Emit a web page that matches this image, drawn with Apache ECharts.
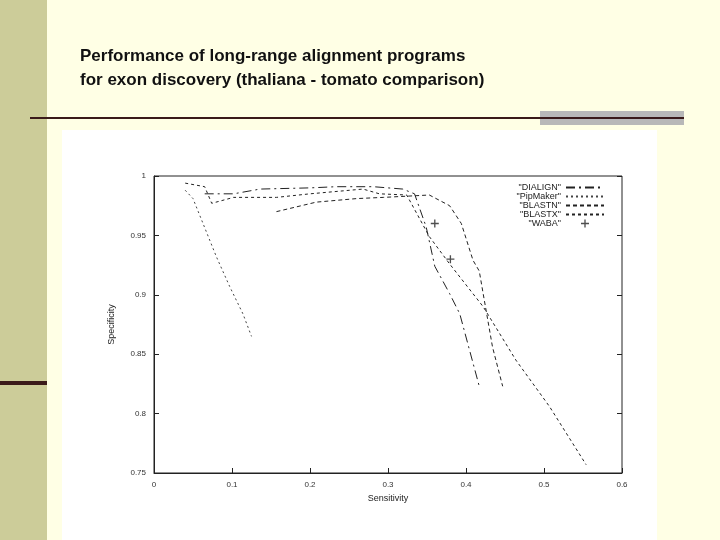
<!DOCTYPE html>
<html style="height: 100%">
<head>
<meta charset="utf-8">
<script src="https://cdn.jsdelivr.net/npm/echarts@6/dist/echarts.min.js"></script>
</head>
<body style="height: 100%; margin: 0; background: #ffffe5">
<div id="container" style="width: 720px; height: 540px"></div>
<script type="text/javascript">
var dialign = [[0.065,0.985],[0.102,0.985],[0.136,0.989],[0.200,0.990],[0.234,0.991],[0.281,0.991],[0.319,0.989],[0.334,0.985],[0.349,0.957],[0.360,0.924],[0.379,0.901],[0.392,0.884],[0.417,0.823]];
var pipmaker = [[0.040,0.988],[0.050,0.981],[0.080,0.932],[0.097,0.907],[0.114,0.884],[0.125,0.865]];
var blastn = [[0.157,0.970],[0.208,0.978],[0.260,0.981],[0.294,0.982],[0.324,0.983],[0.353,0.984],[0.379,0.975],[0.394,0.960],[0.409,0.929],[0.417,0.920],[0.422,0.901],[0.434,0.856],[0.447,0.823]];
var blastx = [[0.040,0.994],[0.065,0.991],[0.074,0.977],[0.102,0.982],[0.157,0.982],[0.200,0.985],[0.268,0.989],[0.289,0.985],[0.324,0.984],[0.353,0.949],[0.379,0.926],[0.422,0.890],[0.464,0.845],[0.507,0.806],[0.554,0.757]];
var waba = [[0.360,0.960],[0.380,0.930]];
var seriesNames = ['"DIALIGN"', '"PipMaker"', '"BLASTN"', '"BLASTX"', '"WABA"'];

var dom = document.getElementById("container");
var myChart = echarts.init(dom);
var ink = '#222';
var tick = {fontSize: 8, color: '#333', fontFamily: 'Liberation Sans'};
var plus = 'path://M5,0H7V5H12V7H7V12H5V7H0V5H5Z';
var option = {
	animation: false,
	backgroundColor: '#ffffe5',
	graphic: [
		{type: 'rect', z: -10, shape: {x: 0, y: 0, width: 47, height: 540}, style: {fill: '#cccc99'}},
		{type: 'rect', z: -10, shape: {x: 0, y: 381, width: 47, height: 4}, style: {fill: '#3a1a1a'}},
		{type: 'rect', z: -10, shape: {x: 30, y: 117, width: 654, height: 2}, style: {fill: '#3a1a1a'}},
		{type: 'rect', z: -10, shape: {x: 540, y: 111, width: 144, height: 14}, style: {fill: '#b8b8b8'}},
		{type: 'rect', z: -10, shape: {x: 540, y: 117, width: 144, height: 2}, style: {fill: '#3a1a1a'}},
		{type: 'rect', z: -9, shape: {x: 62, y: 130, width: 595, height: 410}, style: {fill: '#fff'}},
		{type: 'text', left: 80, top: 44, style: {text: 'Performance of long-range alignment programs\nfor exon discovery (thaliana - tomato comparison)', font: 'bold 17px Liberation Sans', fill: '#111', lineHeight: 24}}
	],
	legend: {
		right: 110, top: 178, orient: 'vertical', align: 'right', itemGap: 0, itemWidth: 38, itemHeight: 8,
		textStyle: {fontSize: 9, color: '#222', fontFamily: 'Liberation Sans'},
		data: seriesNames.map(function (n, i) {
			return i === 4 ? {name: n, icon: plus} : {name: n, itemStyle: {opacity: 0}};
		})
	},
	grid: {left: 154, right: 98, top: 176, bottom: 67, show: true, borderColor: ink, borderWidth: 1, backgroundColor: '#fff'},
	xAxis: {
		type: 'value', min: 0, max: 0.6, interval: 0.1, name: 'Sensitivity', nameLocation: 'middle', nameGap: 16,
		nameTextStyle: {fontSize: 9, color: '#222'},
		axisLine: {lineStyle: {color: ink}}, axisTick: {inside: true, length: 5, lineStyle: {color: ink}},
		axisLabel: tick, splitLine: {show: false}
	},
	yAxis: [{
		type: 'value', min: 0.75, max: 1, interval: 0.05, name: 'Specificity', nameLocation: 'middle', nameGap: 38,
		nameTextStyle: {fontSize: 9, color: '#222'},
		axisLine: {lineStyle: {color: ink}}, axisTick: {inside: true, length: 5, lineStyle: {color: ink}},
		axisLabel: Object.assign({formatter: function (v) { return String(+v.toFixed(2)); }}, tick),
		splitLine: {show: false}
	}, {
		type: 'value', min: 0.75, max: 1, interval: 0.05, position: 'right',
		axisLine: {show: false}, axisTick: {inside: true, length: 5, lineStyle: {color: ink}},
		axisLabel: {show: false}, splitLine: {show: false}
	}],
	series: [
		{name: seriesNames[0], type: 'line', data: dialign, symbol: 'none', lineStyle: {color: ink, width: 1, type: [9, 4, 2, 4]}, itemStyle: {color: ink}},
		{name: seriesNames[1], type: 'line', data: pipmaker, symbol: 'none', lineStyle: {color: '#444', width: 1, type: [2, 3]}, itemStyle: {color: '#444'}},
		{name: seriesNames[2], type: 'line', data: blastn, symbol: 'none', lineStyle: {color: ink, width: 1, type: [4, 3]}, itemStyle: {color: ink}},
		{name: seriesNames[3], type: 'line', data: blastx, symbol: 'none', lineStyle: {color: ink, width: 1, type: [3, 3]}, itemStyle: {color: ink}},
		{name: seriesNames[4], type: 'scatter', data: waba, symbol: plus, symbolSize: 8, itemStyle: {color: ink}}
	]
};
myChart.setOption(option);
</script>
</body>
</html>
